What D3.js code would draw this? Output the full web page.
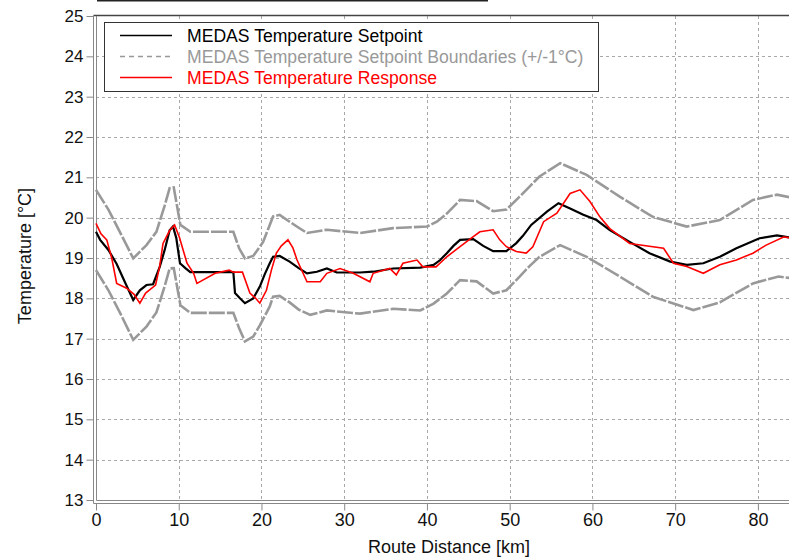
<!DOCTYPE html>
<html>
<head>
<meta charset="utf-8">
<script src="https://cdn.jsdelivr.net/npm/d3@7"></script>
<style>
  body { margin: 0; background: #fff; }
  svg { display: block; font-family: "Liberation Sans", Arial, sans-serif; }
</style>
</head>
<body>
<div id="layout"></div>
<script>
// ---- data ----
var xTicks = [0, 10, 20, 30, 40, 50, 60, 70, 80];
var yTicks = [13, 14, 15, 16, 17, 18, 19, 20, 21, 22, 23, 24, 25];

var setpointKm   = [0, 0.5, 1.5, 2.5, 3.5, 4.5, 5.3, 6.1, 6.9, 7.7, 8.3, 8.9, 9.3, 9.7, 10.15, 10.8, 11.4, 16.6, 16.8, 17.4, 18.0, 19.0, 19.8, 20.4, 21.0, 21.4, 22.2, 23.4, 24.5, 25.5, 26.7, 27.9, 29.1, 31.9, 33.5, 35.9, 39.2, 40.8, 41.6, 42.4, 43.2, 44.0, 45.6, 46.8, 48.0, 49.6, 50.8, 51.6, 52.6, 54.5, 55.9, 57.3, 58.9, 60.5, 62.1, 64.5, 66.9, 69.4, 71.4, 73.4, 75.4, 77.4, 80.2, 82.3, 84];
var setpointTemp = [19.65, 19.45, 19.2, 18.85, 18.4, 17.96, 18.2, 18.33, 18.35, 18.78, 19.2, 19.69, 19.78, 19.5, 18.87, 18.75, 18.65, 18.65, 18.13, 18.0, 17.88, 18.0, 18.29, 18.6, 18.87, 19.03, 19.05, 18.91, 18.75, 18.62, 18.66, 18.74, 18.64, 18.64, 18.66, 18.74, 18.76, 18.83, 18.95, 19.12, 19.3, 19.45, 19.47, 19.3, 19.17, 19.17, 19.37, 19.55, 19.82, 20.15, 20.36, 20.23, 20.07, 19.94, 19.69, 19.4, 19.12, 18.91, 18.83, 18.87, 19.03, 19.24, 19.49, 19.56, 19.5];

var upperKm   = [0, 1.5, 3, 4.5, 6.1, 7.3, 8.3, 8.9, 9.4, 10.2, 11.4, 16.6, 17.3, 18.0, 19.0, 19.8, 20.2, 21.0, 21.4, 22.2, 23.4, 24.5, 25.5, 27.9, 31.9, 35.9, 40, 41.2, 42.4, 44, 46, 48, 49.6, 51.2, 52.4, 53.6, 56.1, 59.3, 63.3, 67.3, 71.4, 75.4, 79.4, 82.3, 84];
var upperTemp = [20.69, 20.2, 19.6, 18.99, 19.32, 19.65, 20.3, 20.73, 20.75, 19.82, 19.65, 19.65, 19.24, 18.99, 19.05, 19.28, 19.4, 19.82, 20.03, 20.07, 19.9, 19.75, 19.62, 19.7, 19.62, 19.74, 19.78, 19.9, 20.1, 20.44, 20.41, 20.16, 20.2, 20.52, 20.77, 21.02, 21.35, 21.06, 20.52, 20.02, 19.78, 19.94, 20.44, 20.57, 20.5];

var lowerKm   = [0, 1.5, 3, 4.5, 6.1, 7.3, 8.3, 8.9, 9.4, 10.2, 11.4, 16.6, 17.3, 18.0, 19.0, 19.8, 21.0, 21.4, 22.2, 23.4, 24.5, 25.9, 27.9, 31.9, 35.9, 39.2, 40.8, 42.4, 44, 46, 48, 49.6, 51.2, 52.4, 53.6, 56.1, 59.3, 63.3, 67.3, 72.2, 75.4, 79.4, 82.5, 84];
var lowerTemp = [18.7, 18.2, 17.6, 16.97, 17.3, 17.65, 18.3, 18.74, 18.75, 17.83, 17.64, 17.64, 17.26, 16.93, 17.05, 17.33, 17.8, 18.04, 18.06, 17.9, 17.72, 17.59, 17.7, 17.62, 17.74, 17.7, 17.87, 18.12, 18.45, 18.42, 18.12, 18.2, 18.54, 18.8, 19.03, 19.32, 19.03, 18.54, 18.04, 17.71, 17.9, 18.37, 18.54, 18.5];

var responseKm   = [0, 0.6, 1.3, 1.9, 2.5, 3.7, 4.6, 5.3, 6.0, 7.2, 7.7, 8.1, 8.9, 9.5, 10.1, 10.6, 11.0, 11.8, 12.2, 14.4, 16.1, 16.6, 17.7, 18.6, 19.3, 19.8, 20.6, 21.2, 21.8, 22.4, 23.2, 23.8, 24.3, 25.5, 27.1, 27.9, 29.5, 31.1, 33.1, 33.5, 35.5, 36.3, 37.1, 38.8, 39.5, 41.1, 42.4, 44, 45.6, 46.4, 48, 48.8, 49.6, 50.8, 52, 52.8, 54.1, 55.7, 57.3, 58.5, 59.7, 60.9, 62.1, 64.5, 68.6, 69.8, 71.4, 73.4, 75.4, 77.4, 79.4, 81.0, 83.1, 84];
var responseTemp = [19.86, 19.6, 19.45, 19.0, 18.37, 18.25, 18.1, 17.88, 18.13, 18.33, 18.8, 19.36, 19.68, 19.82, 19.5, 19.15, 18.87, 18.62, 18.37, 18.62, 18.7, 18.65, 18.65, 18.13, 18.0, 17.88, 18.2, 18.7, 19.12, 19.3, 19.45, 19.25, 18.95, 18.41, 18.41, 18.62, 18.74, 18.62, 18.41, 18.62, 18.74, 18.58, 18.87, 18.95, 18.78, 18.78, 19.03, 19.28, 19.53, 19.65, 19.7, 19.45, 19.28, 19.16, 19.12, 19.28, 19.9, 20.11, 20.6, 20.69, 20.4, 20.02, 19.73, 19.36, 19.24, 18.87, 18.79, 18.62, 18.83, 18.95, 19.12, 19.32, 19.52, 19.5];

var legendLabels = ["MEDAS Temperature Setpoint", "MEDAS Temperature Setpoint Boundaries (+/-1\u00B0C)", "MEDAS Temperature Response"];

// ---- layout ----
var outerWidth = 789,
    outerHeight = 559,
    plot = { left: 96, right: 791, top: 16, bottom: 500 };

var svg = d3.select("#layout")
            .append("svg")
            .attr("width", outerWidth)
            .attr("height", outerHeight);

var xScale = d3.scaleLinear().domain([0, 84]).range([plot.left, plot.right]);
var yScale = d3.scaleLinear().domain([13, 25]).range([plot.bottom, plot.top]);

// stray line at the very top of the picture
svg.append("line")
   .attr("x1", 97).attr("x2", 488)
   .attr("y1", 0.5).attr("y2", 0.5)
   .attr("stroke", "#222").attr("stroke-width", 2);

// grid
var grid = svg.append("g").attr("class", "grid");
grid.selectAll(".vgrid")
    .data(xTicks.filter(d => d > 0))
    .enter().append("line")
    .attr("x1", d => Math.round(xScale(d)) + 0.5)
    .attr("x2", d => Math.round(xScale(d)) + 0.5)
    .attr("y1", plot.top).attr("y2", plot.bottom)
    .attr("stroke", "#a8a8a8").attr("stroke-dasharray", "3,3");
grid.selectAll(".hgrid")
    .data(yTicks.filter(d => d > 13 && d < 25))
    .enter().append("line")
    .attr("x1", plot.left).attr("x2", outerWidth)
    .attr("y1", d => Math.round(yScale(d)) + 0.5)
    .attr("y2", d => Math.round(yScale(d)) + 0.5)
    .attr("stroke", "#a8a8a8").attr("stroke-dasharray", "3,3");

// frame: double line left and bottom, single dark top
svg.append("line")
   .attr("x1", 93.5).attr("x2", outerWidth).attr("y1", plot.top - 0.5).attr("y2", plot.top - 0.5)
   .attr("stroke", "#444").attr("stroke-width", 1.5);
svg.append("line")
   .attr("x1", 93.5).attr("x2", 93.5).attr("y1", plot.top - 0.5).attr("y2", 503.5)
   .attr("stroke", "#888");
svg.append("line")
   .attr("x1", 96.5).attr("x2", 96.5).attr("y1", plot.top).attr("y2", 500.5)
   .attr("stroke", "#888");
svg.append("line")
   .attr("x1", 93.5).attr("x2", outerWidth).attr("y1", 503.5).attr("y2", 503.5)
   .attr("stroke", "#888");
svg.append("line")
   .attr("x1", 96.5).attr("x2", outerWidth).attr("y1", 500.5).attr("y2", 500.5)
   .attr("stroke", "#888");

// axes
var yAxis = d3.axisLeft(yScale).tickValues(yTicks).tickSize(7).tickPadding(3);
var gy = svg.append("g")
   .attr("transform", "translate(93.5,0)")
   .call(yAxis);
gy.select(".domain").remove();
gy.selectAll(".tick line").attr("stroke", "#888");
gy.selectAll(".tick text").attr("font-size", 17).attr("fill", "#111")
  .attr("font-family", "Liberation Sans, Arial, sans-serif");

var xAxis = d3.axisBottom(xScale).tickValues(xTicks).tickSize(7).tickPadding(3);
var gx = svg.append("g")
   .attr("transform", "translate(0,503.5)")
   .call(xAxis);
gx.select(".domain").remove();
gx.selectAll(".tick line").attr("stroke", "#888");
gx.selectAll(".tick text")
  .attr("font-size", 18).attr("fill", "#111")
  .attr("font-family", "Liberation Sans Narrow, Liberation Sans, Arial, sans-serif");

// axis titles
svg.append("text")
   .attr("x", 449).attr("y", 553)
   .attr("text-anchor", "middle")
   .attr("font-size", 18)
   .attr("font-family", "Liberation Sans Narrow, Liberation Sans, Arial, sans-serif")
   .attr("fill", "#111")
   .text("Route Distance [km]");

svg.append("text")
   .attr("transform", "translate(31,256) rotate(-90)")
   .attr("text-anchor", "middle")
   .attr("font-size", 18)
   .attr("fill", "#111")
   .text("Temperature [\u00B0C]");

// series
var line = d3.line()
             .x(d => xScale(d[0]))
             .y(d => yScale(d[1]));

var zip = (a, b) => a.map((v, i) => [v, b[i]]);

var chart = svg.append("g");
chart.append("path")
     .datum(zip(upperKm, upperTemp))
     .attr("d", line).attr("fill", "none")
     .attr("stroke", "#999").attr("stroke-width", 2.6).attr("stroke-dasharray", "16,2");
chart.append("path")
     .datum(zip(lowerKm, lowerTemp))
     .attr("d", line).attr("fill", "none")
     .attr("stroke", "#999").attr("stroke-width", 2.6).attr("stroke-dasharray", "16,2");
chart.append("path")
     .datum(zip(setpointKm, setpointTemp))
     .attr("d", line).attr("fill", "none")
     .attr("stroke", "#000").attr("stroke-width", 2.2);
chart.append("path")
     .datum(zip(responseKm, responseTemp))
     .attr("d", line).attr("fill", "none")
     .attr("stroke", "#ff0000").attr("stroke-width", 1.6);

// legend
var legendColors = ["#000", "#999", "#ff0000"];
var legend = svg.append("g").attr("id", "legend");
legend.append("rect")
      .attr("x", 104.5).attr("y", 22.5)
      .attr("width", 494).attr("height", 69)
      .attr("fill", "#fff").attr("stroke", "#333");
legend.selectAll("line")
      .data(legendLabels)
      .enter().append("line")
      .attr("x1", 120).attr("x2", 172)
      .attr("y1", (d, i) => 35.5 + i * 21)
      .attr("y2", (d, i) => 35.5 + i * 21)
      .attr("stroke", (d, i) => legendColors[i])
      .attr("stroke-width", 1.5)
      .attr("stroke-dasharray", (d, i) => i === 1 ? "5,4" : null);
legend.selectAll("text")
      .data(legendLabels)
      .enter().append("text")
      .attr("x", 187)
      .attr("y", (d, i) => 41.5 + i * 21)
      .attr("font-size", 17.6)
      .attr("fill", (d, i) => legendColors[i])
      .text(d => d);
</script>
</body>
</html>
